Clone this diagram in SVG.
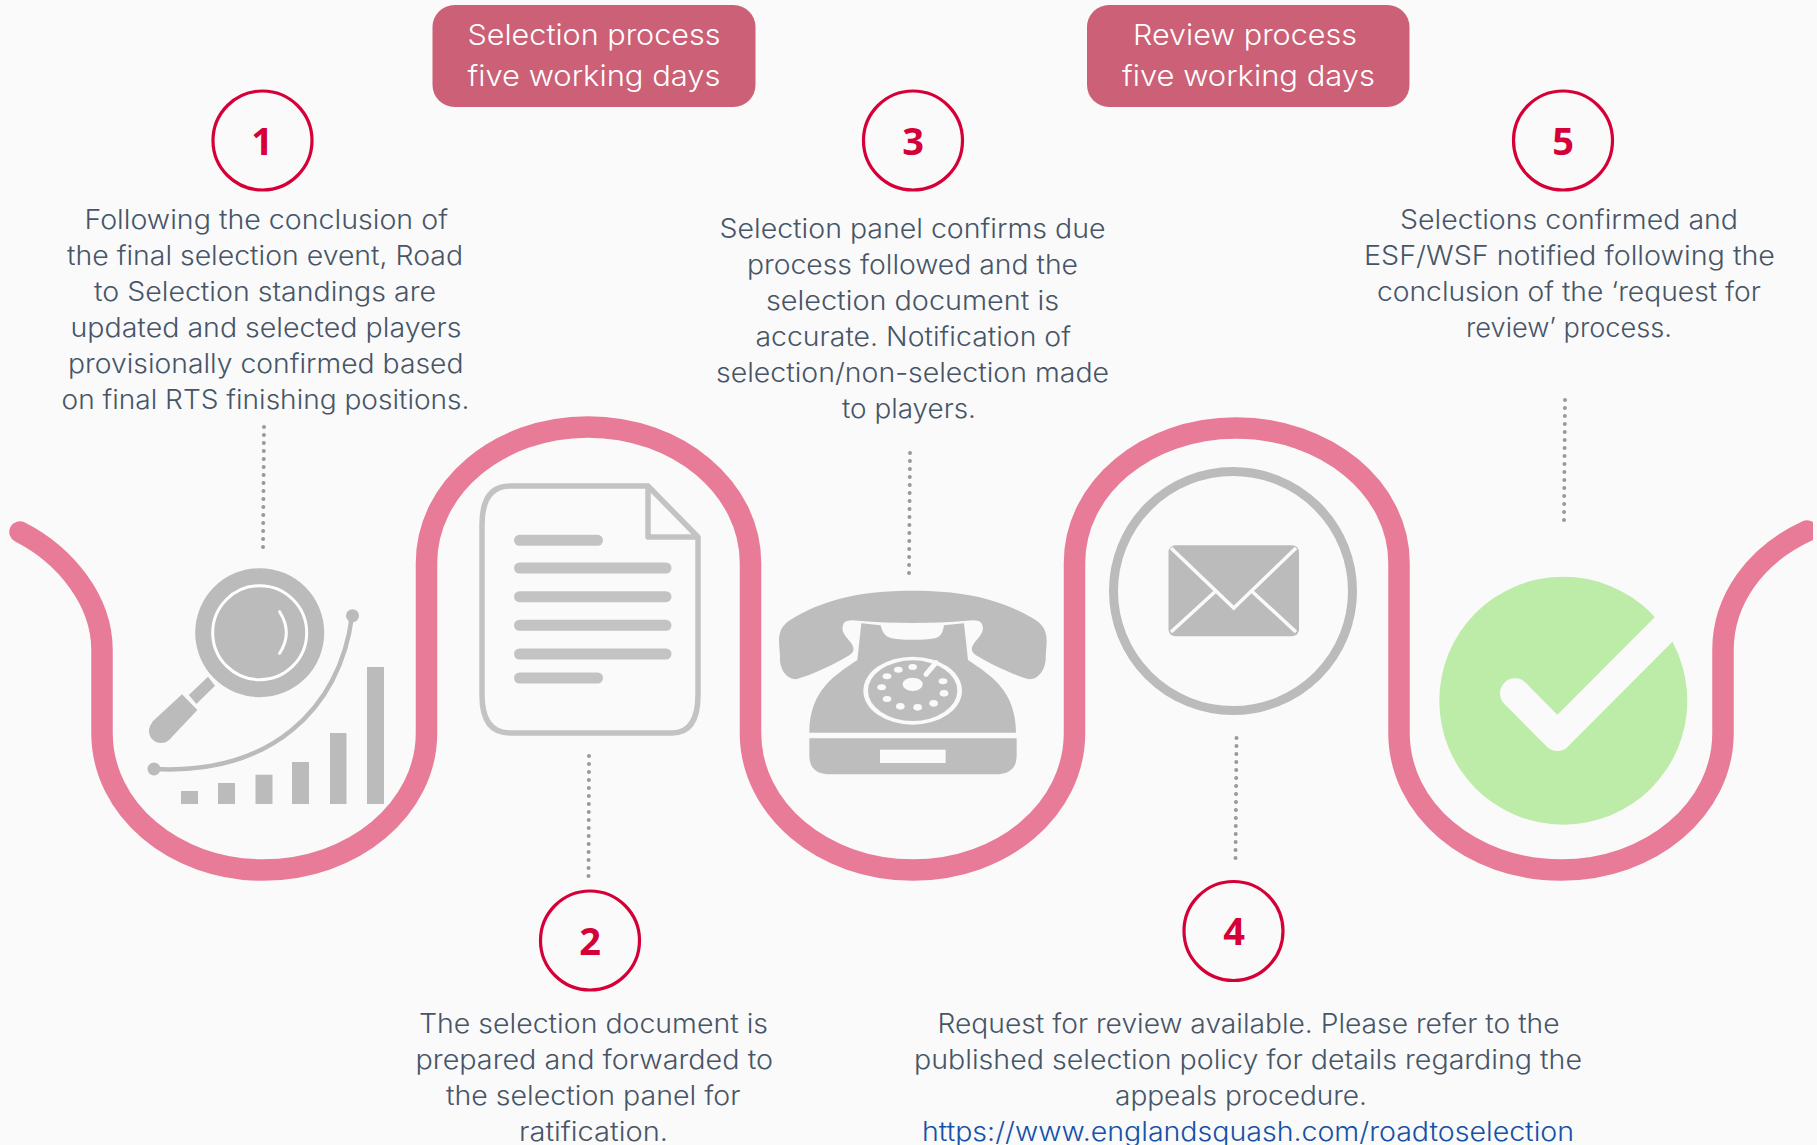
<svg xmlns="http://www.w3.org/2000/svg" width="1817" height="1145" viewBox="0 0 1817 1145">
<style>
text{font-family:"Inter","Noto Sans","Liberation Sans",sans-serif}
.t{font-size:26.500px;font-weight:300;fill:#475568}
.b{font-size:29px;font-weight:300;fill:#fff}
.n{font-family:"Open Sans","Liberation Sans",sans-serif;font-size:38px;font-weight:700;fill:#d50037;text-anchor:middle}
.c{fill:none;stroke:#d50037;stroke-width:3.200}
.badge{fill:#cb6076}
.g{fill:#bbb}
.d{fill:#c3c3c3}
.dots{fill:none;stroke:#999;stroke-width:4;stroke-linecap:round;stroke-dasharray:0 8}
</style>
<defs><clipPath id="page"><rect x="0" y="0" width="1813" height="1145"/></clipPath></defs>
<rect width="1817" height="1145" fill="#fafafa"/>
<g id="wave" clip-path="url(#page)"><path d="M20 532C65 555 102 600 102 650V733C102 809 174 870 263 870C353 870 426.500 809 426.500 733V563C426.500 488 498 427 588 427C678 427 750.500 488 750.500 563V733C750.500 809 823 870 913 870C1003 870 1074.500 809 1074.500 733V563C1074.500 488 1146 428 1236 428C1326 428 1399 488 1399 563V733C1399 809 1471 870 1561 870C1651 870 1723 809 1723 733V650C1723 600 1755 555 1807 531" fill="none" stroke="#e87c98" stroke-width="21.500" stroke-linecap="round"/></g>
<g id="connectors">
<path class="dots" d="M264 427L263 548"/>
<path class="dots" d="M589 756L588.500 877"/>
<path class="dots" d="M910 453L909 573"/>
<path class="dots" d="M1236.500 738L1235.500 858"/>
<path class="dots" d="M1565 400L1564 520"/>
</g>
<g id="badge-selection"><rect class="badge" x="432.500" y="5" width="323" height="102" rx="22"/>
<text class="b" x="467.500" y="45" textLength="253" lengthAdjust="spacingAndGlyphs">Selection process</text>
<text class="b" x="467.500" y="85.500" textLength="253" lengthAdjust="spacingAndGlyphs">five working days</text></g>
<g id="badge-review"><rect class="badge" x="1087" y="5" width="322.500" height="102" rx="22"/>
<text class="b" x="1133" y="45" textLength="224" lengthAdjust="spacingAndGlyphs">Review process</text>
<text class="b" x="1122" y="85.500" textLength="253" lengthAdjust="spacingAndGlyphs">five working days</text></g>
<g id="step-1">
<circle class="c" cx="262.500" cy="140.500" r="49.500"/><text class="n" x="262" y="154.500">1</text>
<text class="t" x="84.500" y="229" textLength="363.500" lengthAdjust="spacingAndGlyphs">Following the conclusion of</text>
<text class="t" x="67" y="264.500" textLength="396" lengthAdjust="spacingAndGlyphs">the final selection event, Road</text>
<text class="t" x="94" y="301" textLength="342" lengthAdjust="spacingAndGlyphs">to Selection standings are</text>
<text class="t" x="70.500" y="337" textLength="391" lengthAdjust="spacingAndGlyphs">updated and selected players</text>
<text class="t" x="68" y="373" textLength="395.500" lengthAdjust="spacingAndGlyphs">provisionally confirmed based</text>
<text class="t" x="61.500" y="408.500" textLength="408" lengthAdjust="spacingAndGlyphs">on final RTS finishing positions.</text>
<g id="icon-search">
<circle class="g" cx="259.700" cy="632.700" r="64.500"/>
<circle cx="259.700" cy="632.700" r="47" fill="none" stroke="#fff" stroke-width="3"/>
<path d="M279.600 611.700Q293 632.700 279.600 653.300" fill="none" stroke="#fff" stroke-width="3" stroke-linecap="round"/>
<polygon class="g" points="208,676.700 215,685.700 196.400,704 188.800,695"/>
<polygon class="g" points="182,694.300 197.400,710 170,739 152,722"/>
<circle class="g" cx="161" cy="731" r="12"/>
<path d="M154 769C270 775 340 710 352 616" fill="none" stroke="#bbb" stroke-width="4.500"/>
<circle class="g" cx="154" cy="769" r="6.500"/><circle class="g" cx="352.500" cy="615.700" r="6.500"/>
<rect class="g" x="181" y="791" width="17" height="13"/>
<rect class="g" x="218" y="783" width="17" height="21"/>
<rect class="g" x="255.500" y="774.700" width="17" height="29.300"/>
<rect class="g" x="292" y="762" width="17" height="42"/>
<rect class="g" x="330" y="733" width="16.500" height="71"/>
<rect class="g" x="367" y="667" width="17" height="137"/>
</g></g>
<g id="step-2">
<circle class="c" cx="590" cy="940.500" r="49.500"/><text class="n" x="590" y="954.500">2</text>
<text class="t" x="419" y="1033" textLength="349" lengthAdjust="spacingAndGlyphs">The selection document is</text>
<text class="t" x="415.500" y="1069" textLength="357.500" lengthAdjust="spacingAndGlyphs">prepared and forwarded to</text>
<text class="t" x="446" y="1105" textLength="294.500" lengthAdjust="spacingAndGlyphs">the selection panel for</text>
<text class="t" x="519" y="1141" textLength="149" lengthAdjust="spacingAndGlyphs">ratification.</text>
<g id="icon-document">
<path d="M648 486H510Q482 486 482 525V695Q482 733 510 733H672Q698 733 698 695V537L648 486V537H698" fill="none" stroke="#c3c3c3" stroke-width="5.500" stroke-linejoin="round"/>
<rect class="d" x="514" y="534.800" width="89" height="11" rx="5.500"/>
<rect class="d" x="514" y="562.500" width="157.500" height="11" rx="5.500"/>
<rect class="d" x="514" y="591.200" width="157.500" height="11" rx="5.500"/>
<rect class="d" x="514" y="619.800" width="157.500" height="11" rx="5.500"/>
<rect class="d" x="514" y="648.500" width="157.500" height="11" rx="5.500"/>
<rect class="d" x="514" y="672.500" width="89" height="11" rx="5.500"/>
</g></g>
<g id="step-3">
<circle class="c" cx="913" cy="140.500" r="49.500"/><text class="n" x="913" y="154.500">3</text>
<text class="t" x="719.500" y="237.500" textLength="386" lengthAdjust="spacingAndGlyphs">Selection panel confirms due</text>
<text class="t" x="747" y="273.500" textLength="331" lengthAdjust="spacingAndGlyphs">process followed and the</text>
<text class="t" x="766" y="309.500" textLength="293" lengthAdjust="spacingAndGlyphs">selection document is</text>
<text class="t" x="755.500" y="345.500" textLength="315.500" lengthAdjust="spacingAndGlyphs">accurate. Notification of</text>
<text class="t" x="716" y="381.500" textLength="393" lengthAdjust="spacingAndGlyphs">selection/non-selection made</text>
<text class="t" x="842" y="417.500" textLength="134" lengthAdjust="spacingAndGlyphs">to players.</text>
<g id="icon-phone" transform="translate(760 580) scale(.33333)" fill="#bcbdbc">
<path d="M458 32C620 32 730 60 830 122C855 140 860 160 860 185L857 232C858 265 838 298 808 298C760 285 690 252 648 226C630 214 632 200 650 180C668 160 672 148 666 132C660 120 640 119 620 122C520 131 396 131 296 122C276 119 256 120 250 132C244 148 248 160 266 180C284 200 286 214 268 226C226 252 156 285 108 298C78 298 58 265 60 232L57 185C57 160 62 140 87 122C186 60 296 32 458 32Z"/>
<path d="M304 130L362 136C368 160 376 170 395 175C430 181 490 181 525 175C542 170 548 160 552 136L612 130L624 240C690 285 768 330 768 458H148C148 330 226 285 292 240Z"/>
<path d="M148 475H770V525C770 565 750 583 705 583H213C168 583 148 565 148 525Z"/>
<rect x="360" y="509" width="197" height="40" fill="#fafafa"/>
<ellipse cx="458" cy="332" rx="148" ry="102" fill="#fafafa"/>
<ellipse cx="458" cy="332" rx="134" ry="91"/>
<g fill="#fafafa"><ellipse cx="458" cy="313" rx="30" ry="20"/>
<ellipse cx="415" cy="269" rx="13" ry="9"/><ellipse cx="458" cy="261" rx="13" ry="9"/><ellipse cx="381" cy="289" rx="13" ry="9"/><ellipse cx="365" cy="322" rx="13" ry="9"/><ellipse cx="381" cy="357" rx="13" ry="9"/><ellipse cx="421" cy="379" rx="13" ry="10"/><ellipse cx="473" cy="382" rx="13" ry="10"/><ellipse cx="521" cy="370" rx="13" ry="10"/><ellipse cx="552" cy="340" rx="13" ry="10"/><ellipse cx="549" cy="304" rx="13" ry="9"/></g>
<path d="M498 283L528 248" fill="none" stroke="#fafafa" stroke-width="15" stroke-linecap="round"/>
</g></g>
<g id="step-4">
<circle class="c" cx="1233.500" cy="931" r="49.500"/><text class="n" x="1234" y="945">4</text>
<text class="t" x="937.500" y="1033" textLength="622" lengthAdjust="spacingAndGlyphs">Request for review available. Please refer to the</text>
<text class="t" x="914" y="1069" textLength="668" lengthAdjust="spacingAndGlyphs">published selection policy for details regarding the</text>
<text class="t" x="1115" y="1105" textLength="252" lengthAdjust="spacingAndGlyphs">appeals procedure.</text>
<text class="t" x="922" y="1141" textLength="652" lengthAdjust="spacingAndGlyphs" style="fill:#1451a8">https://www.englandsquash.com/roadtoselection</text>
<g id="icon-mail">
<circle cx="1233" cy="591" r="119.500" fill="none" stroke="#bbb" stroke-width="9"/>
<rect class="g" x="1168.500" y="545.300" width="130.500" height="91" rx="7"/>
<path d="M1171 548L1233.800 608L1296 548M1171 632L1215 591.700M1252.400 591.700L1296 632" fill="none" stroke="#fafafa" stroke-width="3.500"/>
</g></g>
<g id="step-5">
<circle class="c" cx="1563" cy="140.500" r="49.500"/><text class="n" x="1563" y="154.500">5</text>
<text class="t" x="1400" y="229" textLength="338" lengthAdjust="spacingAndGlyphs">Selections confirmed and</text>
<text class="t" x="1364" y="264.500" textLength="411" lengthAdjust="spacingAndGlyphs">ESF/WSF notified following the</text>
<text class="t" x="1377" y="301" textLength="384" lengthAdjust="spacingAndGlyphs">conclusion of the ‘request for</text>
<text class="t" x="1466" y="337" textLength="206" lengthAdjust="spacingAndGlyphs">review’ process.</text>
<g id="icon-check">
<circle cx="1563.300" cy="700.700" r="124" fill="#bdeba8"/>
<path d="M1515 693.300L1557.300 736L1695 598" fill="none" stroke="#fafafa" stroke-width="30" stroke-linejoin="round"/>
<circle cx="1515" cy="693.300" r="15" fill="#fafafa"/>
</g></g>
</svg>
